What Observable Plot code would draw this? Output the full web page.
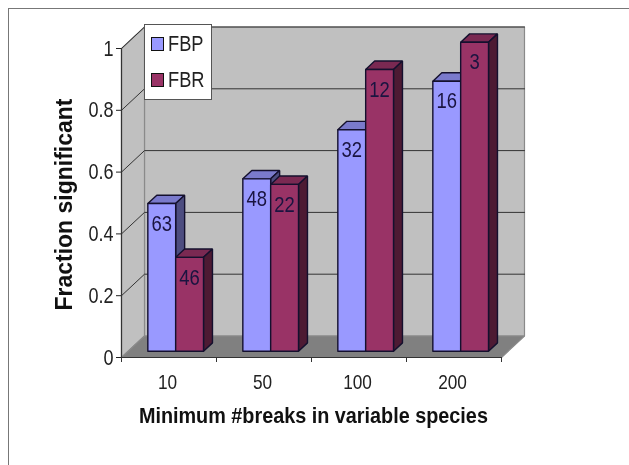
<!DOCTYPE html>
<html>
<head>
<meta charset="utf-8">
<script src="https://cdn.jsdelivr.net/npm/d3@7"></script>
<script src="https://cdn.jsdelivr.net/npm/@observablehq/plot@0.6"></script>
<style>
html,body{margin:0;padding:0;background:#fff;}
#page{position:relative;width:629px;height:465px;overflow:hidden;font-family:"Liberation Sans",Arial,sans-serif;filter:blur(0.35px);}
#frame{position:absolute;left:8px;top:8px;width:640px;height:480px;border-left:1px solid #777;border-top:1px solid #777;}
#chart{position:absolute;left:0;top:0;}
#chart svg{display:block;overflow:visible;background:transparent;}
#legend{position:absolute;left:144px;top:24px;width:66px;height:74px;background:#fff;border:1px solid #555;color:#222;font-size:21.5px;}
.row{position:absolute;left:6px;height:20px;line-height:20px;white-space:nowrap;}
.row i{position:absolute;left:0;top:3px;width:11px;height:12px;border:1px solid #111;box-sizing:content-box;}
.row span{position:absolute;left:17px;top:0;transform:scaleX(0.85);transform-origin:0 50%;}
</style>
</head>
<body>
<div id="page"><div id="frame"></div><div id="chart"></div>
<div id="legend"></div></div>
<script>
const categories = ["10","50","100","200"];
const fbpValues = [0.478,0.558,0.717,0.874];
const fbrValues = [0.304,0.54,0.912,1];
const fbpCounts = ["63","48","32","16"];
const fbrCounts = ["46","22","12","3"];
const yTicks = [0,0.2,0.4,0.6,0.8,1];
const seriesNames = ["FBP","FBR"];
const palette = {
  FBP:{front:"#9999ff",top:"#7a7acc",side:"#4d4d80"},
  FBR:{front:"#993366",top:"#7a2952",side:"#4d1a33"}
};

const W=629,H=465,mL=121,mR=128,mT=48,mB=108;
const unitX=(W-mL-mR)/4, unitY=H-mT-mB;
const depthX=23/unitX, depthY=21.5/unitY;
const P=(x,y,d=0)=>({x:x+d*depthX,y:y+d*depthY});
const poly=(id,fill,pts)=>pts.concat([pts[0]]).map(p=>({...p,id,fill}));

const room=[
  ...poly("back","#c0c0c0",[P(0,0,1),P(4,0,1),P(4,1,1),P(0,1,1)]),
  ...poly("left","#c0c0c0",[P(0,0,0),P(0,0,1),P(0,1,1),P(0,1,0)]),
  ...poly("floor","#808080",[P(0,0,0),P(4,0,0),P(4,0,1),P(0,0,1)])
];
const grid=yTicks.slice(1).flatMap(v=>[
  {...P(0,v,0),id:v},{...P(0,v,1),id:v},{...P(4,v,1),id:v}
]);

const barW=0.293, zF=0.29, zB=0.68;
const valuesOf=s=>s==="FBP"?fbpValues:fbrValues;
function prism(i,s,v){
  const c=palette[s], k=s==="FBP"?0:1;
  const a=i+0.5-barW+k*barW, b=a+barW, id=s+i;
  return [
    ...poly(id+"t",c.top,[P(a,v,zF),P(b,v,zF),P(b,v,zB),P(a,v,zB)]),
    ...poly(id+"s",c.side,[P(b,0,zF),P(b,0,zB),P(b,v,zB),P(b,v,zF)]),
    ...poly(id+"f",c.front,[P(a,0,zF),P(b,0,zF),P(b,v,zF),P(a,v,zF)])
  ];
}
const barsOf=s=>valuesOf(s).flatMap((v,i)=>prism(i,s,v));
const labelsOf=s=>(s==="FBP"?fbpCounts:fbrCounts).map((t,i)=>{
  const k=s==="FBP"?-1:1;
  return {t,...P(i+0.5+k*barW/2,valuesOf(s)[i],zF)};
});
const faces=(data)=>Plot.line(data,{x:"x",y:"y",z:"id",fill:"fill",stroke:"#14102e",strokeWidth:1.4,strokeLinejoin:"miter"});
const counts=(data)=>Plot.text(data,{x:"x",y:"y",text:"t",dy:20,fontSize:22.5,fill:"#1a1440",className:"slim"});

const plot=Plot.plot({
  width:W,height:H,marginLeft:mL,marginRight:mR,marginTop:mT,marginBottom:mB,
  style:{fontFamily:"Liberation Sans, Arial, sans-serif",background:"transparent"},
  x:{type:"linear",domain:[0,4],axis:null},
  y:{type:"linear",domain:[0,1],axis:null},
  color:{type:"identity"},
  marks:[
    Plot.line(room,{x:"x",y:"y",z:"id",fill:"fill",stroke:"#8a8a8a",strokeWidth:1.2}),
    Plot.line(grid,{x:"x",y:"y",z:"id",stroke:"#333",strokeWidth:1}),
    Plot.ruleX([0],{y1:0,y2:1,stroke:"#333",strokeWidth:1.2}),
    Plot.ruleY([0],{x1:0,x2:4,stroke:"#333",strokeWidth:1.2}),
    Plot.axisY({ticks:yTicks,tickFormat:d=>String(d),tickSize:5,tickPadding:3,fontSize:22,label:null,color:"#222",className:"slim"}),
    Plot.axisX({ticks:[0,1,2,3,4],tickFormat:()=>"",tickSize:5,label:null,color:"#333"}),
    Plot.text(categories,{x:(d,i)=>i+0.485,y:()=>0,text:d=>d,dy:25,fontSize:21,fill:"#222",className:"slim"}),
    faces(barsOf("FBP")),
    counts(labelsOf("FBP")),
    faces(barsOf("FBR")),
    counts(labelsOf("FBR")),
    Plot.text(["Minimum #breaks in variable species"],{x:()=>2.02,y:()=>0,text:d=>d,dy:58.5,fontSize:22,fontWeight:"bold",fill:"#111",className:"xtitle"}),
    Plot.text(["Fraction significant"],{x:()=>0,y:()=>0.495,text:d=>d,dx:-57,rotate:-90,fontSize:23,fontWeight:"bold",fill:"#111"})
  ]
});
document.getElementById("chart").appendChild(plot);

// The reference's text is tall and narrow: condense the glyphs, keeping them real text.
const condense=(t,len)=>{t.setAttribute("textLength",len);t.setAttribute("lengthAdjust","spacingAndGlyphs");};
plot.querySelectorAll("[class*=slim] text, text[class*=slim]").forEach(t=>condense(t,t.getComputedTextLength()*0.82));
plot.querySelectorAll("[class*=xtitle] text, text[class*=xtitle]").forEach(t=>condense(t,349));

const legend=document.getElementById("legend");
seriesNames.forEach((s,k)=>{
  const r=document.createElement("div");
  r.className="row"; r.style.top=(k?45:9)+"px";
  const sw=document.createElement("i"); sw.style.background=palette[s].front;
  const tx=document.createElement("span"); tx.textContent=s;
  r.appendChild(sw); r.appendChild(tx);
  legend.appendChild(r);
});
</script>
</body>
</html>
